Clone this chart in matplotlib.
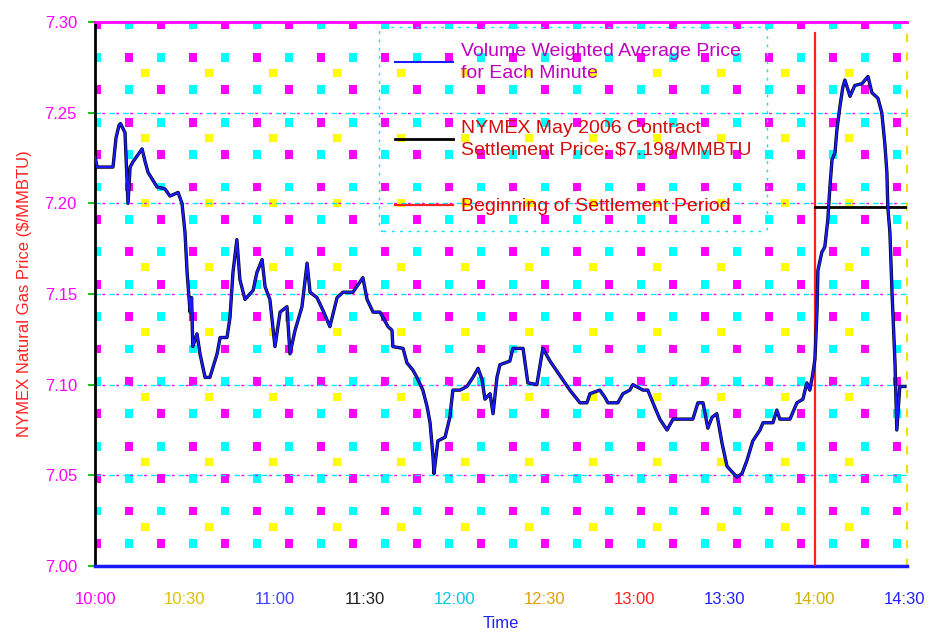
import numpy as np
import matplotlib
matplotlib.use("Agg")
import matplotlib.pyplot as plt

plt.rcParams['font.family'] = ['Liberation Sans', 'DejaVu Sans']

# minutes after 10:00 and the volume weighted price for each minute
vwap_minute = [0, 0.7, 6, 7, 8, 8.5, 10, 11, 11.7, 12.7, 15.7, 16.7, 17.7, 20.7, 23.3,
               25, 27.7, 29, 30, 30.7, 31.7, 32.2, 32.6, 34, 35, 36.7, 38.3, 40.7, 41.7,
               44, 45, 46, 47.3, 48.3, 50, 52.7, 54, 55.7, 56.7, 58.3, 60, 61.7, 64, 65,
               66.7, 69, 70.7, 71.7, 74, 76, 78.3, 80.7, 82.7, 86, 89.3, 90.7, 92.7, 95,
               97.7, 99, 99.3, 102.7, 104, 106, 107.3, 109.3, 110.7, 111.7, 112.7, 113,
               114.3, 116.7, 118.3, 119.3, 121.7, 124, 126, 127.7, 129, 130, 131.7, 132.7,
               134, 135, 138.3, 139.3, 142.7, 144.3, 147.3, 149.3, 151.7, 155, 158.3,
               161.7, 164, 165, 168.3, 170, 171, 174.3, 176, 178.3, 179.3, 182.7, 184.3,
               186, 188.3, 190.7, 192.7, 199.3, 201, 202.7, 204.3, 205.7, 207.3, 209,
               210.7, 214, 215.7, 217.3, 219.3, 221.7, 222.7, 226, 227.3, 228.3, 231.7,
               234, 236, 237.3, 238.3, 239.3, 240, 240.7, 241, 242.3, 243.3, 244.3, 245,
               245.7, 246.7, 247.3, 248.3, 249.3, 250, 251.7, 253.3, 255.7, 256.7, 257.7,
               259, 261, 262.3, 263.3, 264, 264.3, 265, 265.7, 266.7, 267.3, 268.3, 270]
vwap_price = [7.226, 7.220, 7.220, 7.236, 7.243, 7.244, 7.239, 7.200, 7.220, 7.223, 7.230,
              7.223, 7.217, 7.209, 7.208, 7.204, 7.206, 7.200, 7.184, 7.162, 7.140, 7.148,
              7.121, 7.128, 7.117, 7.104, 7.104, 7.117, 7.126, 7.126, 7.137, 7.162, 7.180,
              7.158, 7.147, 7.152, 7.162, 7.169, 7.154, 7.147, 7.121, 7.140, 7.143, 7.117,
              7.130, 7.143, 7.167, 7.151, 7.148, 7.141, 7.132, 7.148, 7.151, 7.151, 7.159,
              7.147, 7.140, 7.140, 7.132, 7.130, 7.121, 7.120, 7.112, 7.108, 7.104, 7.097,
              7.088, 7.079, 7.060, 7.051, 7.069, 7.071, 7.082, 7.097, 7.097, 7.099, 7.104,
              7.109, 7.103, 7.092, 7.095, 7.084, 7.104, 7.111, 7.113, 7.120, 7.120, 7.101,
              7.100, 7.120, 7.113, 7.105, 7.097, 7.090, 7.090, 7.095, 7.097, 7.093, 7.090,
              7.090, 7.095, 7.097, 7.100, 7.097, 7.097, 7.090, 7.081, 7.075, 7.081, 7.081,
              7.090, 7.090, 7.076, 7.082, 7.084, 7.068, 7.055, 7.049, 7.051, 7.058, 7.069,
              7.075, 7.079, 7.079, 7.086, 7.081, 7.081, 7.090, 7.092, 7.101, 7.097, 7.106,
              7.114, 7.141, 7.163, 7.173, 7.176, 7.191, 7.209, 7.224, 7.228, 7.240, 7.253,
              7.264, 7.268, 7.259, 7.265, 7.266, 7.268, 7.270, 7.261, 7.258, 7.250, 7.233,
              7.217, 7.198, 7.184, 7.151, 7.112, 7.075, 7.099, 7.099]

settle_price = 7.198
settle_start = 240
settle_end = 270.7

tick_minutes = [0, 30, 60, 90, 120, 150, 180, 210, 240, 270]
tick_labels = ['10:00', '10:30', '11:00', '11:30', '12:00', '12:30', '13:00', '13:30', '14:00', '14:30']
tick_colors = ['#ff00ff', '#e0c000', '#4040ff', '#202020', '#00c8e0', '#e0a000',
               '#ff2020', '#2020ff', '#d0b000', '#2020ff']
y_ticks = [7.00, 7.05, 7.10, 7.15, 7.20, 7.25, 7.30]

fig = plt.figure(figsize=(9.3, 6.35), dpi=100)
ax = fig.add_axes([95 / 930, 69 / 635, 812 / 930, 544 / 635])
ax.set_xlim(0, 270.7)
ax.set_ylim(7.0, 7.3)

# dotted background pattern (pixel lattice inside the plot area)
W, H = 812.0, 544.0
xs, ys, cs = [], [], []
for j in range(17):
    py = 3 + 32.4 * j
    for k in range(26):
        px = 2 + 32 * k
        xs.append(px / W)
        ys.append(1 - py / H)
        cs.append('#ff00ff' if (j + k) % 2 == 0 else '#00ffff')
ax.scatter(xs, ys, s=40, marker='s', c=cs, linewidths=0, transform=ax.transAxes, zorder=1)
yx, yy = [], []
for j in range(8):
    py = 51 + 64.8 * j
    for k in range(13):
        px = 50 + 64 * k
        yx.append(px / W)
        yy.append(1 - py / H)
ax.scatter(yx, yy, s=34, marker='s', c='#ffff00', linewidths=0, transform=ax.transAxes, zorder=1)

for y in y_ticks[1:-1]:
    ax.axhline(y, color='#00e5ff', lw=1.0, ls=(0, (4, 6)), zorder=1.5)
    ax.axhline(y, color='#ff00ff', lw=1.0, ls=(5, (2, 8)), zorder=1.5)

ax.axvline(settle_start, ymax=0.98, color='#ff2020', lw=1.6, zorder=3,
           label='Beginning of Settlement Period')
ax.plot([settle_start, settle_end], [settle_price, settle_price], color='black', lw=2, zorder=4,
        label='NYMEX May 2006 Contract\nSettlement Price: \\$7.198/MMBTU')
ax.plot(vwap_minute, vwap_price, color='black', lw=2.4, zorder=5)
ax.plot(vwap_minute, vwap_price, color='#1a1aff', lw=1.5, zorder=6,
        label='Volume Weighted Average Price\nfor Each Minute')

ax.set_xticks(tick_minutes)
ax.set_xticklabels(tick_labels, fontsize=12)
for lab, c in zip(ax.get_xticklabels(), tick_colors):
    lab.set_color(c)
ax.set_xticks([60, 120, 180, 240], minor=True)
ax.tick_params(axis='x', which='major', length=0, pad=19)
ax.tick_params(axis='x', which='minor', length=5, width=1.5, color='black')
ax.set_yticks(y_ticks)
ax.set_yticklabels(['%.2f' % v for v in y_ticks], fontsize=12, color='#ff00ff')
ax.tick_params(axis='y', length=5, width=1.5, color='#20c020', pad=8)

ax.set_ylabel('NYMEX Natural Gas Price (\\$/MMBTU)', fontsize=12, color='#ff2020', labelpad=9)
ax.set_xlabel('Time', fontsize=12, color='#2020ff', labelpad=6)

ax.spines['left'].set_color('black')
ax.spines['left'].set_linewidth(2)
ax.spines['bottom'].set_color('#1a1aff')
ax.spines['bottom'].set_linewidth(2.5)
ax.spines['top'].set_color('#ff00ff')
ax.spines['top'].set_linewidth(2)
ax.spines['right'].set_color('#f0e000')
ax.spines['right'].set_linestyle((0, (3, 6)))
ax.spines['right'].set_linewidth(1.5)

handles, labels = ax.get_legend_handles_labels()
order = [2, 1, 0]
leg = ax.legend([handles[i] for i in order], [labels[i] for i in order],
                loc='upper left', bbox_to_anchor=(0.35, 0.99), fontsize=14,
                handlelength=3.0, handletextpad=0.4, labelspacing=2.0,
                borderpad=0.8, borderaxespad=0, fancybox=True,
                facecolor='none', framealpha=1)
leg.get_frame().set_edgecolor('#00e5ff')
leg.get_frame().set_linestyle((0, (2, 4)))
for t, c in zip(leg.get_texts(), ['#c000c0', '#d01010', '#e00000']):
    t.set_color(c)
    t.set_linespacing(1.35)

fig.savefig('out.png', dpi=100)
